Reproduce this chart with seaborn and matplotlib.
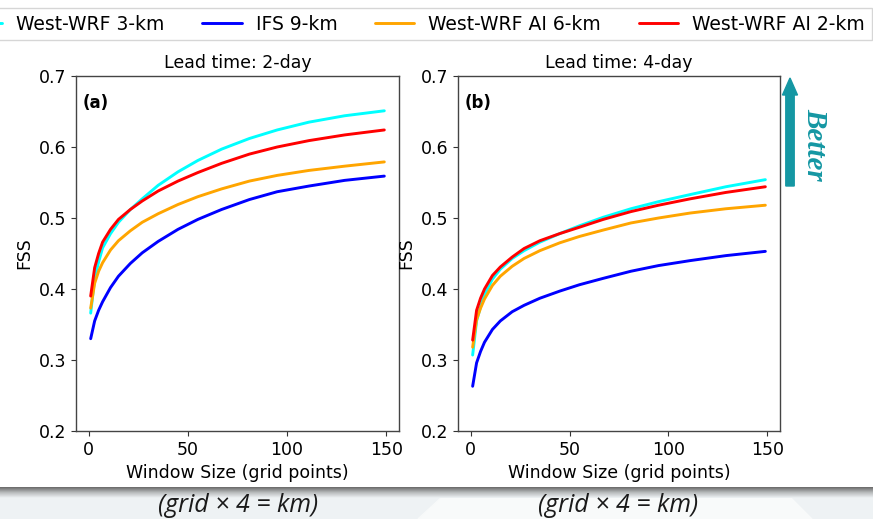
import numpy as np
import pandas as pd
import matplotlib
matplotlib.use("Agg")
import matplotlib.pyplot as plt
import seaborn as sns
from matplotlib.patches import FancyArrow, Polygon, Rectangle

# Neighbourhood window sizes (grid points)
window = [1, 3, 5, 7, 11, 15, 21, 27, 35, 45, 55, 67, 81, 95, 111, 129, 149]

models = ["West-WRF 3-km", "IFS 9-km", "West-WRF AI 6-km", "West-WRF AI 2-km"]
colors = ["cyan", "blue", "orange", "red"]

# FSS, lead time 2 days
fss_2day_wwrf3 = [0.366, 0.415, 0.438, 0.458, 0.478, 0.494, 0.512, 0.527, 0.546,
                  0.565, 0.581, 0.597, 0.612, 0.624, 0.635, 0.644, 0.651]
fss_2day_ifs9 = [0.330, 0.355, 0.370, 0.382, 0.402, 0.418, 0.436, 0.451, 0.467,
                 0.484, 0.498, 0.512, 0.526, 0.537, 0.545, 0.553, 0.559]
fss_2day_ai6 = [0.373, 0.408, 0.425, 0.437, 0.455, 0.468, 0.482, 0.494, 0.506,
                0.519, 0.530, 0.541, 0.552, 0.560, 0.567, 0.573, 0.579]
fss_2day_ai2 = [0.390, 0.430, 0.450, 0.466, 0.484, 0.498, 0.512, 0.524, 0.538,
                0.552, 0.564, 0.577, 0.590, 0.600, 0.609, 0.617, 0.624]

# FSS, lead time 4 days
fss_4day_wwrf3 = [0.307, 0.355, 0.375, 0.392, 0.414, 0.428, 0.443, 0.454, 0.466,
                  0.478, 0.489, 0.501, 0.513, 0.523, 0.533, 0.544, 0.554]
fss_4day_ifs9 = [0.263, 0.296, 0.312, 0.325, 0.343, 0.355, 0.368, 0.377, 0.387,
                 0.397, 0.406, 0.415, 0.425, 0.433, 0.440, 0.447, 0.453]
fss_4day_ai6 = [0.318, 0.357, 0.373, 0.386, 0.405, 0.418, 0.432, 0.443, 0.454,
                0.465, 0.474, 0.483, 0.493, 0.500, 0.507, 0.513, 0.518]
fss_4day_ai2 = [0.328, 0.370, 0.387, 0.400, 0.419, 0.431, 0.445, 0.457, 0.468,
                0.478, 0.487, 0.498, 0.509, 0.518, 0.527, 0.536, 0.544]

panels = [
    ("Lead time: 2-day", "(a)", [fss_2day_wwrf3, fss_2day_ifs9, fss_2day_ai6, fss_2day_ai2]),
    ("Lead time: 4-day", "(b)", [fss_4day_wwrf3, fss_4day_ifs9, fss_4day_ai6, fss_4day_ai2]),
]

sns.set_style("ticks")
plt.rcParams["font.family"] = ["DejaVu Sans"]
plt.rcParams["text.color"] = "black"
plt.rcParams["axes.labelcolor"] = "black"
plt.rcParams["xtick.color"] = "black"
plt.rcParams["ytick.color"] = "black"

W, H = 873, 519
fig = plt.figure(figsize=(W / 100, H / 100), dpi=100)
fig.patch.set_facecolor("white")


def fx(px):
    return px / W


def fy(py):
    return 1 - py / H


# bottom band: shaded divider and light footer
footer = fig.add_axes([0, 0, 1, fy(487)], zorder=-5)
footer.add_patch(Rectangle((0, 487), W, H - 487, color="#eef2f4", zorder=0))
footer.add_patch(Polygon([(418, 519), (442, 497), (790, 497), (812, 519)],
                         closed=True, color="#f8fafa", zorder=1))
grad = np.linspace(0, 1, 40)[:, None]
footer.imshow(grad, cmap=matplotlib.colors.LinearSegmentedColormap.from_list(
    "band", ["#6a6a6a", "#b8bbbc", "#eef2f4"]), extent=(0, W, 498, 487),
    aspect="auto", zorder=3)
footer.set_xlim(0, W)
footer.set_ylim(H, 487)
footer.axis("off")

axes_px = [(76, 399), (458, 780)]
top_px, bot_px = 76, 431

for (title, tag, series), (l, r) in zip(panels, axes_px):
    ax = fig.add_axes([fx(l), fy(bot_px), fx(r - l), fy(top_px) - fy(bot_px)])
    df = pd.DataFrame({
        "window": window * len(models),
        "fss": [v for s in series for v in s],
        "model": [m for m in models for _ in window],
    })
    sns.lineplot(data=df, x="window", y="fss", hue="model", hue_order=models,
                 palette=colors, linewidth=2.1, ax=ax, legend=False)
    ax.set_ylim(0.2, 0.7)
    ax.set_yticks([0.2, 0.3, 0.4, 0.5, 0.6, 0.7])
    ax.set_xticks([0, 50, 100, 150])
    ax.set_xlabel("Window Size (grid points)", fontsize=12.5)
    ax.set_ylabel("FSS", fontsize=12.5)
    ax.set_title(title, fontsize=12.5)
    ax.tick_params(labelsize=12.5, color="#333333")
    for sp in ax.spines.values():
        sp.set_visible(True)
        sp.set_color("#444444")
        sp.set_linewidth(1.0)
    ax.text(0.022, 0.95, tag, transform=ax.transAxes, fontsize=12,
            fontweight="bold", va="top", ha="left")

# shared legend across the top
handles = [plt.Line2D([], [], color=c, lw=2.1) for c in colors]
fig.legend(handles, models, loc="center", ncol=4, fontsize=13.5,
           bbox_to_anchor=(fx(414), fy(24)), frameon=True, fancybox=False,
           edgecolor="#cccccc", handlelength=2.1, handletextpad=0.75,
           columnspacing=2.0, borderpad=0.35)

# "Better" arrow
fig.patches.append(FancyArrow(fx(790), fy(186), 0, fy(78) - fy(186),
                              width=5 / H, head_width=15 / W,
                              head_length=17 / H, length_includes_head=True,
                              color="#1597a3", transform=fig.transFigure))
fig.text(fx(815), fy(144), "Better", rotation=-90, ha="center", va="center",
         fontsize=21, fontweight="bold", fontstyle="italic",
         family=["Liberation Serif", "DejaVu Serif"], color="#1597a3")

# km conversion notes
for xc in (238, 618):
    fig.text(fx(xc), fy(506), "(grid \u00d7 4 = km)", ha="center", va="center",
             fontsize=18, fontstyle="italic", family=["Open Sans", "DejaVu Sans"],
             color="#1a1a1a")

fig.savefig("out.png", dpi=100)
